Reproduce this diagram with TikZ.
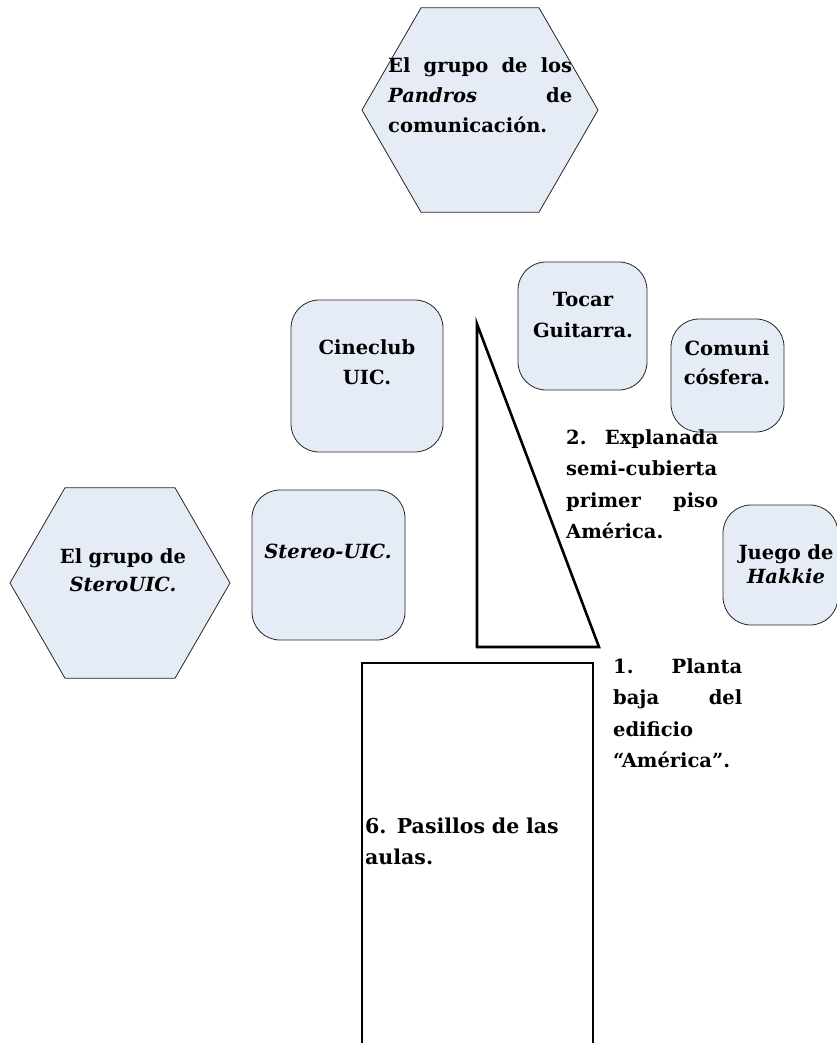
\documentclass[tikz,border=0pt]{standalone}
\usepackage{fontspec}
\setmainfont{DejaVu Serif}
\usetikzlibrary{shapes.geometric}
\definecolor{relleno}{RGB}{230,236,246}
\tikzset{hexa/.style={regular polygon, regular polygon sides=6, draw=black!85, fill=relleno, inner sep=0pt, line width=0.8pt}}
\tikzset{tarjeta/.style={rectangle, draw=black!85, fill=relleno, rounded corners=28pt, line width=0.8pt, inner sep=0pt}}
\tikzset{texto/.style={inner sep=0pt, anchor=base, align=center, font=\fontsize{19.5}{30}\selectfont\bfseries}}
\tikzset{zona/.style={inner sep=0pt, anchor=base west, align=left, font=\fontsize{19.5}{31.5}\selectfont\bfseries}}
\tikzset{muro/.style={line width=2.6pt, line join=miter}}

\begin{document}
\begin{tikzpicture}[x=1pt, y=-1pt]
	\useasboundingbox (0,0) rectangle (836,1043);
	
	% grupos
	\node[hexa, minimum size=236pt] (pandros) at (480,110) {};
	\node[zona, text width=184pt, font=\fontsize{19.5}{30}\selectfont\bfseries] (pandrostxt) at (388,73)
		{El\hfill grupo\hfill de\hfill los\\ \textit{Pandros}\hfill de\\ comunicación.};
	
	\node[hexa, minimum size=220pt] (stereog) at (120,583) {};
	\node[texto, text width=150pt, font=\fontsize{19.5}{28}\selectfont\bfseries] (stereogtxt) at (123,563)
		{El grupo de\\ \textit{SteroUIC.}};
	
	% actividades
	\node[tarjeta, minimum width=152pt, minimum height=152pt] (cine) at (367,376) {};
	\node[texto, text width=140pt] (cinetxt) at (367,354) {Cineclub\\ UIC.};
	
	\node[tarjeta, minimum width=129pt, minimum height=128pt] (guitarra) at (582.5,326) {};
	\node[texto, text width=125pt, font=\fontsize{19.5}{31}\selectfont\bfseries] (guitarratxt) at (583,306) {Tocar\\ Guitarra.};
	
	\node[tarjeta, minimum width=113pt, minimum height=113pt] (comuni) at (727.5,375.5) {};
	\node[texto, text width=110pt, font=\fontsize{19.5}{29}\selectfont\bfseries] (comunitxt) at (727,355) {Comuni\\ cósfera.};
	
	\node[tarjeta, minimum width=153pt, minimum height=150pt] (stereo) at (328.5,565) {};
	\node[texto, text width=150pt] (stereotxt) at (328,558) {\textit{Stereo-UIC.}};
	
	\node[tarjeta, minimum width=115pt, minimum height=120pt] (hakkie) at (780.5,565) {};
	\node[texto, text width=120pt, font=\fontsize{19.5}{24}\selectfont\bfseries] (hakkietxt) at (786,559) {Juego de\\ \textit{Hakkie}};
	
	% edificio
	\draw[muro] (477,324) -- (477,647) -- (599,647) -- cycle;
	\draw[muro] (362,1060) -- (362,663) -- (593,663) -- (593,1060);
	
	\node[zona, text width=152pt] (explanada) at (566,444)
		{2.\hfill Explanada\\ semi-cubierta\\ primer\hfill piso\\ América.};
	\node[zona, text width=129pt] (planta) at (613,673)
		{1.\hfill Planta\\ baja\hfill del\\ edificio\\ “América”.};
	\node[zona, text width=220pt, font=\fontsize{20.5}{31}\selectfont\bfseries] (pasillos) at (365,833)
		{6. Pasillos de las\\ aulas.};
\end{tikzpicture}
\end{document}
